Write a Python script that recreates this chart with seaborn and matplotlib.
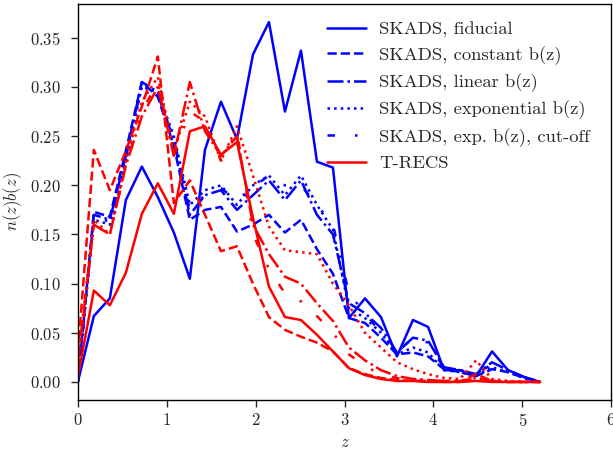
import numpy as np
import pandas as pd
import matplotlib
matplotlib.use("Agg")
import matplotlib.pyplot as plt
import seaborn as sns

z = [0.00, 0.18, 0.36, 0.54, 0.72, 0.90, 1.08, 1.26, 1.43, 1.61, 1.79, 1.97, 2.15, 2.33, 2.51,
     2.69, 2.87, 3.05, 3.23, 3.41, 3.59, 3.77, 3.94, 4.12, 4.30, 4.48, 4.66, 4.84, 5.02, 5.20]

skads_fiducial = [0, .067, .085, .185, .219, .188, .152, .105, .236, .285, .247, .333, .366, .275, .337,
                  .224, .218, .065, .085, .066, .026, .063, .056, .012, .012, .006, .031, .012, .005, 0]
skads_constant = [0, .173, .168, .235, .305, .290, .240, .165, .175, .178, .153, .160, .170, .152, .165,
                  .135, .110, .065, .060, .045, .028, .030, .026, .013, .010, .006, .013, .010, .004, 0]
skads_linear = [0, .170, .165, .230, .305, .295, .245, .170, .190, .195, .175, .190, .205, .185, .205,
                .170, .150, .080, .070, .055, .030, .045, .042, .015, .012, .008, .020, .012, .005, 0]
skads_exponential = [0, .165, .160, .225, .300, .295, .250, .180, .195, .200, .180, .200, .210, .190, .210,
                     .180, .155, .075, .065, .050, .028, .035, .030, .012, .010, .006, .015, .010, .004, 0]
skads_cutoff = [0, .168, .163, .228, .302, .292, .247, .175, .190, .197, .185, .198, .210, .200, .200,
                .180, .160, .090, .070, .050, .030, .045, .040, .014, .012, .008, .018, .012, .005, 0]

trecs_fiducial = [.005, .093, .078, .111, .171, .202, .171, .255, .260, .231, .244, .167, .097, .066, .063,
                  .048, .031, .014, .007, .003, .001, .001, 0, 0, 0, .001, 0, 0, 0, 0]
trecs_constant = [.030, .236, .195, .235, .280, .331, .182, .205, .170, .133, .138, .100, .066, .053, .046,
                  .040, .031, .014, .008, .004, .002, .001, .001, 0, 0, .008, .001, 0, 0, 0]
trecs_linear = [.020, .160, .150, .220, .270, .300, .230, .305, .255, .230, .250, .160, .130, .107, .100,
                .080, .062, .035, .022, .012, .006, .003, .002, .001, .001, .004, .001, 0, 0, 0]
trecs_exponential = [.020, .165, .150, .225, .285, .310, .235, .285, .270, .225, .260, .210, .158, .134, .132,
                     .130, .100, .078, .050, .035, .020, .013, .008, .004, .003, .022, .003, .001, 0, 0]
trecs_cutoff = [.015, .160, .150, .220, .275, .305, .230, .275, .265, .225, .255, .150, .115, .090, .082,
                .067, .050, .028, .016, .008, .004, .002, .002, .001, .001, .003, .001, 0, 0, 0]

legend_labels = ["SKADS, fiducial", "SKADS, constant b(z)", "SKADS, linear b(z)",
                 "SKADS, exponential b(z)", "SKADS, exp. b(z), cut-off", "T-RECS"]

sns.set_theme(style="ticks")
plt.rcParams["font.family"] = ["cmr10", "DejaVu Serif"]
plt.rcParams["mathtext.fontset"] = "cm"
plt.rcParams["axes.formatter.use_mathtext"] = True
plt.rcParams["axes.unicode_minus"] = False

fig = plt.figure(figsize=(6.13, 4.55), dpi=100)
ax = fig.add_axes([0.127, 0.121, 0.870, 0.870])

cut = (0, (3, 8, 1, 8))
styles = ["-", "--", "-.", ":", cut]
lw = 1.8

blue_series = [skads_fiducial, skads_constant, skads_linear, skads_exponential, skads_cutoff]
red_series = [trecs_fiducial, trecs_constant, trecs_linear, trecs_exponential, trecs_cutoff]

for vals, ls, lab in zip(blue_series, styles, legend_labels[:5]):
    sns.lineplot(x=z, y=vals, ax=ax, color="blue", linestyle=ls, linewidth=lw,
                 label=lab, legend=False, estimator=None)
for i, (vals, ls) in enumerate(zip(red_series, styles)):
    sns.lineplot(x=z, y=vals, ax=ax, color="red", linestyle=ls, linewidth=lw,
                 label=legend_labels[5] if i == 0 else None, legend=False, estimator=None)

ax.set_xlim(0, 6)
ax.set_xlabel("$z$", fontsize=12)
ax.set_ylabel("$n(z)b(z)$", fontsize=12)
ax.tick_params(labelsize=12, direction="out", width=1, length=5, pad=4)
ax.tick_params(axis="y", pad=7.5)
for s in ax.spines.values():
    s.set_linewidth(1.0)
    s.set_color("black")

ax.legend(loc="upper right", bbox_to_anchor=(0.984, 0.99), frameon=False, fontsize=13.4,
          handlelength=2.1, handletextpad=0.7, borderaxespad=0.3, labelspacing=0.46)

fig.savefig("out.png", dpi=100)
